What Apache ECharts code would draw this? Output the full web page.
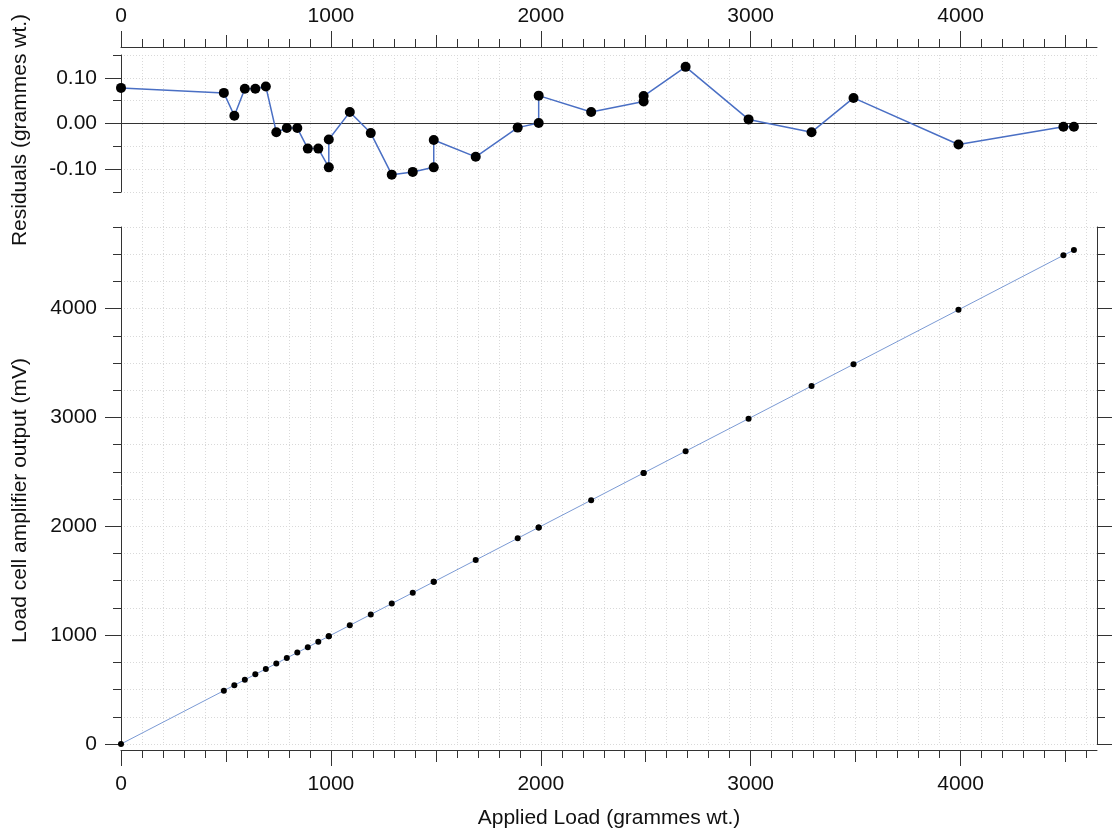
<!DOCTYPE html>
<html>
<head>
<meta charset="utf-8">
<script src="https://cdn.jsdelivr.net/npm/echarts@6/dist/echarts.min.js"></script>
<style>
  html, body { margin: 0; padding: 0; background: #fff; }
  #chart { width: 1112px; height: 832px; }
</style>
</head>
<body>
<div id="chart"></div>
<script>
// ---- data ----
const loads = [0, 490, 540, 590, 640, 690, 740, 790, 840, 890, 940, 990, 990, 1090, 1190, 1290, 1390, 1490, 1490, 1690, 1890, 1990, 1990, 2240, 2490, 2490, 2690, 2990, 3290, 3490, 3990, 4490, 4540];
const residuals = [0.078, 0.067, 0.017, 0.076, 0.076, 0.081, -0.019, -0.010, -0.010, -0.055, -0.055, -0.096, -0.035, 0.025, -0.021, -0.112, -0.106, -0.096, -0.036, -0.073, -0.009, 0.001, 0.061, 0.025, 0.048, 0.060, 0.124, 0.009, -0.019, 0.056, -0.046, -0.007, -0.007];
const outputs = [0, 490, 540, 590, 640, 690, 740, 790, 840, 890, 940, 990, 990, 1090, 1190, 1290, 1390, 1490, 1490, 1690, 1890, 1990, 1990, 2240, 2490, 2490, 2690, 2989, 3289, 3489, 3989, 4490, 4538];

const xMajorTicks = [0, 1000, 2000, 3000, 4000];
const xMidTicks = [0, 500, 1000, 1500, 2000, 2500, 3000, 3500, 4000, 4500];
const resMajorTicks = [-0.1, 0, 0.1];
const outMajorTicks = [0, 1000, 2000, 3000, 4000];

const X_MIN = 0, X_MAX = 4650;
const RES_MIN = -0.15, RES_MAX = 0.15;
const OUT_MIN = 0, OUT_MAX = 4750;

// ---- styling ----
const FONT = "'Liberation Sans', Arial, sans-serif";
const AX = '#333';
const GRIDC = '#d9d9d9';
const L = 121, R = 15;

const residData = loads.map((x, i) => [x, residuals[i]]);
const outData = loads.map((x, i) => [x, outputs[i]]);

const tickLabel = { fontFamily: FONT, fontSize: 21, color: '#111' };
const nameStyle = { fontFamily: FONT, fontSize: 21, color: '#111' };
const dotted = { show: true, lineStyle: { color: GRIDC, type: [1, 2], width: 1 } };
const axLine = { show: true, onZero: false, lineStyle: { color: AX, width: 1 } };
const noLine = { show: false, onZero: false };

const grids = [
  { left: L, right: R, top: 55, height: 689 },   // 0 background verticals
  { left: L, right: R, top: 55, height: 137 },   // 1 residuals
  { left: L, right: R, top: 55, height: 137 },   // 2 residuals overlay
  { left: L, right: R, top: 227, height: 517 },  // 3 output
  { left: L, right: R, top: 227, height: 517 }   // 4 output overlay
].map(g => Object.assign({ outerBoundsMode: 'none', containLabel: false }, g));

const hidden = { axisLine: noLine, axisTick: { show: false }, axisLabel: { show: false }, splitLine: { show: false } };

const xAxes = [
  Object.assign({ type: 'value', gridIndex: 0, min: X_MIN, max: X_MAX, interval: 100 }, hidden,
    { splitLine: Object.assign({}, dotted, { showMinLine: false, showMaxLine: false }) }),
  { type: 'value', gridIndex: 1, position: 'top', offset: 8, min: X_MIN, max: X_MAX, interval: 500,
    axisLine: axLine,
    axisTick: { show: true, length: 12, customValues: xMidTicks, lineStyle: { color: AX, width: 1 } },
    minorTick: { show: true, splitNumber: 5, length: 8, lineStyle: { color: AX, width: 1 } },
    axisLabel: { show: false }, splitLine: { show: false } },
  { type: 'value', gridIndex: 2, position: 'top', offset: 8, min: X_MIN, max: X_MAX, interval: 500,
    axisLine: noLine,
    axisTick: { show: true, length: 16, customValues: xMajorTicks, lineStyle: { color: AX, width: 1 } },
    axisLabel: Object.assign({ show: true, margin: 20, customValues: xMajorTicks, formatter: v => String(v) }, tickLabel),
    splitLine: { show: false } },
  { type: 'value', gridIndex: 3, position: 'bottom', offset: 6, min: X_MIN, max: X_MAX, interval: 500,
    axisLine: axLine,
    axisTick: { show: true, length: 12, customValues: xMidTicks, lineStyle: { color: AX, width: 1 } },
    minorTick: { show: true, splitNumber: 5, length: 8, lineStyle: { color: AX, width: 1 } },
    axisLabel: { show: false }, splitLine: { show: false } },
  { type: 'value', gridIndex: 4, position: 'bottom', offset: 6, min: X_MIN, max: X_MAX, interval: 500,
    name: 'Applied Load (grammes wt.)', nameLocation: 'middle', nameGap: 58, nameTextStyle: nameStyle, nameMoveOverlap: false,
    axisLine: noLine,
    axisTick: { show: true, length: 16, customValues: xMajorTicks, lineStyle: { color: AX, width: 1 } },
    axisLabel: Object.assign({ show: true, margin: 24, customValues: xMajorTicks, formatter: v => String(v) }, tickLabel),
    splitLine: { show: false } }
];

const yAxes = [
  Object.assign({ type: 'value', gridIndex: 0, min: 0, max: 1 }, hidden),
  { type: 'value', gridIndex: 1, position: 'left', min: RES_MIN, max: RES_MAX, interval: 0.05,
    axisLine: axLine,
    axisTick: { show: true, length: 8, lineStyle: { color: AX, width: 1 } },
    axisLabel: { show: false }, splitLine: dotted },
  { type: 'value', gridIndex: 2, position: 'left', min: RES_MIN, max: RES_MAX, interval: 0.05,
    name: 'Residuals (grammes wt.)', nameLocation: 'middle', nameGap: 90, nameMoveOverlap: false,
    nameTextStyle: Object.assign({ padding: [0, 13, 0, 0] }, nameStyle),
    axisLine: noLine,
    axisTick: { show: true, length: 16, customValues: resMajorTicks, lineStyle: { color: AX, width: 1 } },
    axisLabel: Object.assign({ show: true, margin: 24, customValues: resMajorTicks, formatter: v => v.toFixed(2) }, tickLabel),
    splitLine: { show: false } },
  { type: 'value', gridIndex: 3, position: 'left', min: OUT_MIN, max: OUT_MAX, interval: 250,
    axisLine: axLine,
    axisTick: { show: true, length: 8, lineStyle: { color: AX, width: 1 } },
    axisLabel: { show: false }, splitLine: dotted },
  { type: 'value', gridIndex: 3, position: 'right', min: OUT_MIN, max: OUT_MAX, interval: 250,
    axisLine: axLine,
    axisTick: { show: true, length: 8, lineStyle: { color: AX, width: 1 } },
    axisLabel: { show: false }, splitLine: { show: false } },
  { type: 'value', gridIndex: 4, position: 'left', min: OUT_MIN, max: OUT_MAX, interval: 250,
    name: 'Load cell amplifier output (mV)', nameLocation: 'middle', nameGap: 90, nameMoveOverlap: false,
    nameTextStyle: Object.assign({ padding: [0, 30, 0, 0] }, nameStyle),
    axisLine: noLine,
    axisTick: { show: true, length: 16, customValues: outMajorTicks, lineStyle: { color: AX, width: 1 } },
    axisLabel: Object.assign({ show: true, margin: 24, customValues: outMajorTicks, formatter: v => String(v) }, tickLabel),
    splitLine: { show: false } },
  { type: 'value', gridIndex: 4, position: 'right', min: OUT_MIN, max: OUT_MAX, interval: 250,
    axisLine: noLine,
    axisTick: { show: true, length: 16, customValues: outMajorTicks, lineStyle: { color: AX, width: 1 } },
    axisLabel: { show: false }, splitLine: { show: false } }
];

const chart = echarts.init(document.getElementById('chart'), null, { renderer: 'canvas' });
chart.setOption({
  animation: false,
  backgroundColor: '#ffffff',
  textStyle: { fontFamily: FONT },
  grid: grids,
  xAxis: xAxes,
  yAxis: yAxes,
  series: [
    {
      name: 'Residuals', type: 'line', xAxisIndex: 1, yAxisIndex: 1,
      data: residData, symbol: 'circle', symbolSize: 10,
      itemStyle: { color: '#000' },
      lineStyle: { color: '#4a6fc4', width: 1.5 },
      z: 5,
      markLine: {
        silent: true, symbol: ['none', 'none'], label: { show: false },
        lineStyle: { color: '#333', type: 'solid', width: 1 },
        emphasis: { disabled: true },
        data: [{ yAxis: 0 }]
      }
    },
    {
      name: 'Output', type: 'line', xAxisIndex: 3, yAxisIndex: 3,
      data: outData, symbol: 'circle', symbolSize: 6,
      itemStyle: { color: '#000' },
      lineStyle: { color: '#7b9ad4', width: 1 },
      z: 5
    }
  ]
});
</script>
</body>
</html>
